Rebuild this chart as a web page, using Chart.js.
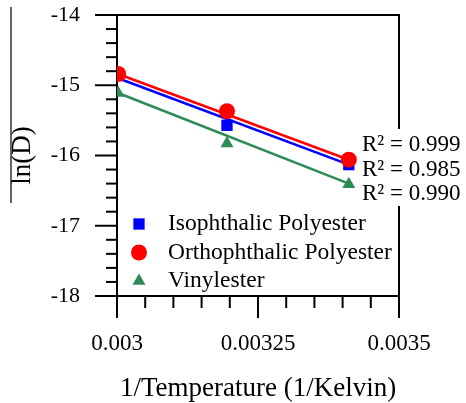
<!DOCTYPE html>
<html>
<head>
<meta charset="utf-8">
<script src="https://cdn.jsdelivr.net/npm/chart.js@4"></script>
<style>
  body { margin: 0; background: #fff; }
  #wrap { width: 466px; height: 403px; }
</style>
</head>
<body>
<div id="wrap"><canvas id="diffChart" width="466" height="403"></canvas></div>
<script>
// 1/T values (20, 40, 60 C)
const inverseTemps = [0.003002, 0.003195, 0.003411];
const isoValues = [-14.85, -15.57, -16.13];
const orthoValues = [-14.84, -15.37, -16.06];
const vinylValues = [-15.11, -15.83, -16.41];

// fitted lines, end points
const fitX = [0.003002, 0.003411];
const isoFit = [-14.90, -16.13];
const orthoFit = [-14.84, -16.06];
const vinylFit = [-15.11, -16.40];

const seriesNames = ['Isophthalic Polyester', 'Orthophthalic Polyester', 'Vinylester'];
const r2Labels = ['R\u00B2 = 0.999', 'R\u00B2 = 0.985', 'R\u00B2 = 0.990'];
const xTickLabels = ['0.003', '0.00325', '0.0035'];
const yTickLabels = ['-18', '-17', '-16', '-15', '-14'];

const BLUE = '#0000ff';
const RED = '#ff0000';
const GREEN = '#2e8b57';
const SERIF = '"Liberation Serif", "Times New Roman", serif';

function toPoints(xs, ys) {
    return xs.map((x, i) => ({ x: x, y: ys[i] }));
}

function matchLabel(value, labels) {
    const hit = labels.find(l => Math.abs(parseFloat(l) - value) < 1e-9);
    return hit === undefined ? '' : hit;
}

// major labels plus four minor ticks between each pair
function withMinorTicks(labels) {
    const vals = labels.map(parseFloat);
    const out = [];
    for (let i = 0; i < vals.length - 1; i++) {
        for (let k = 0; k < 5; k++) {
            out.push({ value: vals[i] + (vals[i + 1] - vals[i]) * k / 5 });
        }
    }
    out.push({ value: vals[vals.length - 1] });
    return out;
}

// axes frame, tick marks, legend, R2 notes and the stray rule on the left
const framePlugin = {
    id: 'frame',
    beforeDatasetsDraw(chart) {
        const ctx = chart.ctx;
        const area = chart.chartArea;
        const xs = chart.scales.x;
        const ys = chart.scales.y;
        ctx.save();
        ctx.strokeStyle = '#000';
        ctx.lineWidth = 2;
        ctx.beginPath();
        ctx.moveTo(area.left, area.top);
        ctx.lineTo(area.right, area.top);
        ctx.lineTo(area.right, area.bottom);
        ctx.lineTo(area.left, area.bottom);
        ctx.closePath();
        ctx.stroke();
        xs.ticks.forEach(t => {
            const px = xs.getPixelForValue(t.value);
            const len = matchLabel(t.value, xTickLabels) ? 22 : 12;
            ctx.beginPath();
            ctx.moveTo(px, area.bottom);
            ctx.lineTo(px, area.bottom + len);
            ctx.stroke();
        });
        ys.ticks.forEach(t => {
            const py = ys.getPixelForValue(t.value);
            const len = matchLabel(t.value, yTickLabels) ? 22 : 11;
            ctx.beginPath();
            ctx.moveTo(area.left, py);
            ctx.lineTo(area.left - len, py);
            ctx.stroke();
        });
        ctx.lineWidth = 1.5;
        ctx.strokeStyle = '#333';
        ctx.beginPath();
        ctx.moveTo(11, 7);
        ctx.lineTo(11, 203);
        ctx.stroke();
        ctx.restore();
    },
    afterDraw(chart) {
        const ctx = chart.ctx;
        ctx.save();
        // R2 notes sit on a white box that breaks the right border
        ctx.fillStyle = '#fff';
        ctx.fillRect(360, 129, 106, 77);
        ctx.fillStyle = '#000';
        ctx.font = '23px ' + SERIF;
        ctx.textAlign = 'left';
        ctx.textBaseline = 'middle';
        r2Labels.forEach((txt, i) => {
            ctx.fillText(txt, 362, 145 + i * 24.5);
        });
        // legend
        ctx.font = '23.5px ' + SERIF;
        for (let i = 0; i < 3; i++) {
            const ds = chart.data.datasets[i];
            const y = 224 + i * 28.5;
            ctx.fillStyle = ds.backgroundColor;
            Chart.helpers.drawPoint(ctx, {
                pointStyle: ds.pointStyle,
                radius: ds.pointRadius,
                rotation: 0,
                borderWidth: 0
            }, 139, y);
            ctx.fillStyle = '#000';
            ctx.fillText(ds.label, 168, y);
        }
        ctx.restore();
    }
};

const markerStyles = [
    { color: BLUE, style: 'rect', radius: 8, values: isoValues, fit: isoFit, order: 1 },
    { color: RED, style: 'circle', radius: 8, values: orthoValues, fit: orthoFit, order: 0 },
    { color: GREEN, style: 'triangle', radius: 7.5, values: vinylValues, fit: vinylFit, order: 2 }
];

const datasets = markerStyles.map((m, i) => ({
    label: seriesNames[i],
    data: toPoints(inverseTemps, m.values),
    showLine: false,
    pointStyle: m.style,
    pointRadius: m.radius,
    pointBackgroundColor: m.color,
    pointBorderWidth: 0,
    backgroundColor: m.color,
    borderColor: m.color,
    order: m.order
}));
markerStyles.forEach((m, i) => {
    datasets.push({
        label: seriesNames[i] + ' fit',
        data: toPoints(fitX, m.fit),
        showLine: true,
        pointRadius: 0,
        borderColor: m.color,
        borderWidth: 2.5,
        fill: false,
        order: 5 - i
    });
});

// invisible tick marks only push the labels away from the axis
const hiddenTicks = len => ({
    display: true,
    drawOnChartArea: false,
    drawTicks: true,
    tickLength: len,
    tickColor: 'rgba(0,0,0,0)'
});

new Chart(document.getElementById('diffChart').getContext('2d'), {
    type: 'scatter',
    data: { datasets: datasets },
    options: {
        responsive: false,
        animation: false,
        layout: { padding: { left: 0, top: 15, right: 67, bottom: 0 } },
        plugins: {
            legend: { display: false },
            tooltip: { enabled: false }
        },
        scales: {
            x: {
                type: 'linear',
                min: 0.003,
                max: 0.0035,
                grid: hiddenTicks(34),
                border: { display: false },
                afterBuildTicks: s => { s.ticks = withMinorTicks(xTickLabels); },
                ticks: {
                    autoSkip: false,
                    maxRotation: 0,
                    minRotation: 0,
                    padding: 0,
                    color: '#000',
                    font: { family: SERIF, size: 23 },
                    callback: v => matchLabel(v, xTickLabels)
                },
                title: {
                    display: true,
                    text: '1/Temperature (1/Kelvin)',
                    color: '#000',
                    font: { family: SERIF, size: 27, lineHeight: 1.05 },
                    padding: { top: 0, bottom: 0 }
                },
                afterFit: s => { s.height = 107; }
            },
            y: {
                type: 'linear',
                min: -18,
                max: -14,
                grid: hiddenTicks(37),
                border: { display: false },
                afterBuildTicks: s => { s.ticks = withMinorTicks(yTickLabels); },
                ticks: {
                    autoSkip: false,
                    padding: 0,
                    color: '#000',
                    font: { family: SERIF, size: 22 },
                    callback: v => matchLabel(v, yTickLabels)
                },
                title: {
                    display: true,
                    text: 'ln(D)',
                    color: '#000',
                    font: { family: SERIF, size: 27 },
                    padding: { top: 7, bottom: 0 }
                },
                afterFit: s => { s.width = 117; }
            }
        }
    },
    plugins: [framePlugin]
});
</script>
</body>
</html>
